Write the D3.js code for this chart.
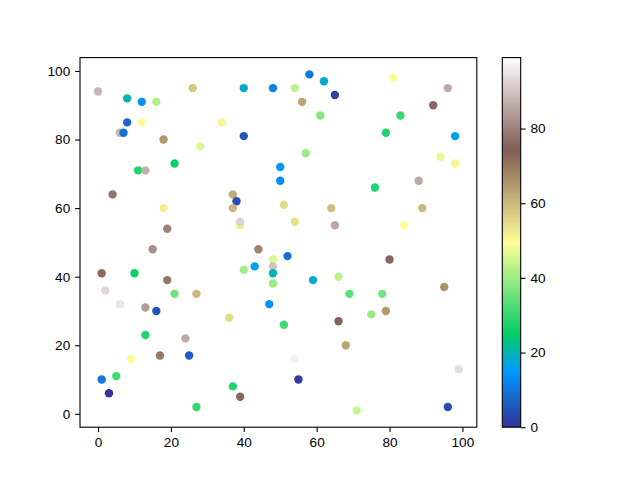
<!DOCTYPE html>
<html>
<head>
<meta charset="utf-8">
<script src="https://cdn.jsdelivr.net/npm/d3@7"></script>
<style>
    body { margin: 0; background: #fff; }
    .axis text { font-family: "Liberation Sans", Arial, sans-serif; font-size: 13.6px; fill: #000; }
    .axis line, .axis path { stroke: #000; stroke-width: 1.1px; }
</style>
</head>
<body>
<div id="container"></div>
<script>

// point positions and colour values
var xs = [0, 8, 12, 16, 26, 40, 48, 8, 12, 6, 7, 34, 40, 18, 28, 21, 11, 13, 50, 50,
    4, 37, 38, 37, 18, 39, 39, 19,
    58, 62, 54, 65, 56, 61, 81, 96, 92, 83, 79, 98, 57, 94, 98, 76, 88, 51, 64, 89, 54, 65, 84,
    15, 44, 48, 48, 48, 48, 43, 40, 1, 10, 19, 2, 21, 27, 6, 13, 16, 47, 36, 13, 24, 9, 17, 25, 1, 5, 3, 37, 39, 27,
    52, 80, 59, 66, 69, 78, 95, 75, 79, 51, 66, 69, 68, 54, 55, 99, 71, 96];

var ys = [94, 92, 91, 91, 95, 95, 95, 85, 85, 82, 82, 85, 81, 80, 78, 73, 71, 71, 72, 68,
    64, 64, 62, 60, 60, 55, 56, 54,
    99, 97, 95, 93, 91, 87, 98, 95, 90, 87, 82, 81, 76, 75, 73, 66, 68, 61, 60, 60, 56, 55, 55,
    48, 48, 45, 43, 41, 38, 43, 42, 41, 41, 39, 36, 35, 35, 32, 31, 30, 32, 28, 23, 22, 16, 17, 17, 10, 11, 6, 8, 5, 2,
    46, 45, 39, 40, 35, 35, 37, 29, 30, 26, 27, 28, 20, 16, 10, 13, 1, 2];

var vals = [88, 20, 14, 42, 58, 18, 11, 7, 50, 88, 9, 51, 5, 65, 46, 26, 28, 87, 15, 13,
    78, 62, 4, 60, 52, 52, 92, 80,
    10, 18, 43, 2, 63, 38, 50, 86, 76, 30, 28, 16, 40, 47, 51, 28, 86, 55, 59, 60, 54, 86, 50,
    82, 68, 46, 90, 20, 40, 17, 41, 72, 26, 78, 93, 36, 60, 95, 84, 5, 14, 55, 28, 86, 50, 70, 6, 10, 31, 0, 28, 76, 30,
    9, 76, 18, 43, 34, 36, 66, 40, 65, 31, 75, 99, 63, 97, 1, 94, 44, 4];

var xTicks = [0, 20, 40, 60, 80, 100];
var yTicks = [0, 20, 40, 60, 80, 100];
var cTicks = [0, 20, 40, 60, 80];

var width = 640, height = 480;
var plotLeft = 80, plotRight = 476.8, plotTop = 57.6, plotBottom = 427.2;
var barLeft = 502.3, barWidth = 18.4;

// matplotlib "terrain" colormap
var terrainStops = [
    [0.00, [0.2, 0.2, 0.6]],
    [0.15, [0.0, 0.6, 1.0]],
    [0.25, [0.0, 0.8, 0.4]],
    [0.50, [1.0, 1.0, 0.6]],
    [0.75, [0.5, 0.36, 0.33]],
    [1.00, [1.0, 1.0, 1.0]]
];

var terrain = function(t) {
    t = Math.max(0, Math.min(1, t));
    for (var i = 1; i < terrainStops.length; i++) {
        var a = terrainStops[i - 1], b = terrainStops[i];
        if (t <= b[0]) {
            var f = (t - a[0]) / (b[0] - a[0]);
            var c = a[1].map(function(v, k) { return Math.round(255 * (v + f * (b[1][k] - v))); });
            return "rgb(" + c.join(",") + ")";
        }
    }
    return "rgb(255,255,255)";
};

var data = xs.map(function(x, i) { return {x: x, y: ys[i], v: vals[i]}; });

var x = d3.scaleLinear().domain([-4.95, 103.95]).range([plotLeft, plotRight]);
var y = d3.scaleLinear().domain([-3.9, 103.9]).range([plotBottom, plotTop]);
var cMin = 0, cMax = 99;
var color = function(v) { return terrain((v - cMin) / (cMax - cMin)); };
var cy = d3.scaleLinear().domain([cMin, cMax]).range([plotBottom, plotTop]);

var svg = d3.select("#container").append("svg")
    .attr("width", width)
    .attr("height", height);

svg.selectAll(".dot")
    .data(data)
    .enter().append("circle")
    .attr("class", "dot")
    .attr("cx", function(d) { return x(d.x); })
    .attr("cy", function(d) { return y(d.y); })
    .attr("r", 4.2)
    .attr("fill", function(d) { return color(d.v); });

svg.append("g")
    .attr("class", "axis")
    .attr("transform", "translate(0," + plotBottom + ")")
    .call(d3.axisBottom(x).tickValues(xTicks).tickSize(4.9).tickPadding(4.9).tickSizeOuter(0));

svg.append("g")
    .attr("class", "axis")
    .attr("transform", "translate(" + plotLeft + ",0)")
    .call(d3.axisLeft(y).tickValues(yTicks).tickSize(4.9).tickPadding(4.9).tickSizeOuter(0));

svg.selectAll(".axis .domain").remove();

// frame
svg.append("rect")
    .attr("x", plotLeft)
    .attr("y", plotTop)
    .attr("width", plotRight - plotLeft)
    .attr("height", plotBottom - plotTop)
    .attr("fill", "none")
    .attr("stroke", "#000")
    .attr("stroke-width", 1.1);

// colorbar
var grad = svg.append("defs").append("linearGradient")
    .attr("id", "terrainGrad")
    .attr("x1", 0).attr("y1", 1).attr("x2", 0).attr("y2", 0);

d3.range(0, 101).forEach(function(i) {
    grad.append("stop")
        .attr("offset", (i / 100))
        .attr("stop-color", terrain(i / 100));
});

svg.append("rect")
    .attr("x", barLeft)
    .attr("y", plotTop)
    .attr("width", barWidth)
    .attr("height", plotBottom - plotTop)
    .attr("fill", "url(#terrainGrad)")
    .attr("stroke", "#000")
    .attr("stroke-width", 1.1);

svg.append("g")
    .attr("class", "axis")
    .attr("transform", "translate(" + (barLeft + barWidth) + ",0)")
    .call(d3.axisRight(cy).tickValues(cTicks).tickSize(4.9).tickPadding(4.9).tickSizeOuter(0))
    .select(".domain").remove();

</script>
</body>
</html>
